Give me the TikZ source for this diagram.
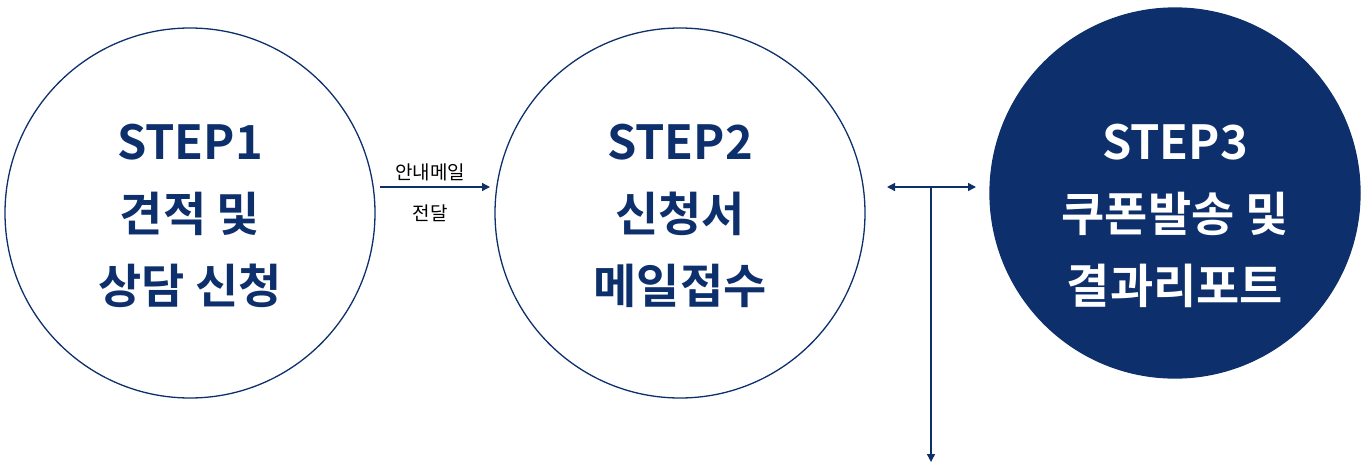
\documentclass[tikz,border=0pt]{standalone}
\usepackage{fontspec}
\setmainfont{Noto Sans CJK KR}[BoldFont={* Bold}]
\newfontfamily\kb{Noto Sans CJK KR Bold}
\definecolor{navy}{HTML}{0D2F6B}
\usetikzlibrary{arrows.meta}
\begin{document}
\begin{tikzpicture}[x=1pt,y=-1pt,
  circ/.style={circle,draw=navy,line width=1.3pt,minimum size=370pt,inner sep=0pt},
  big/.style={font=\kb\fontsize{47}{72}\selectfont,text=navy,align=center},
  lab/.style={font=\fontsize{19}{22}\selectfont,text=black},
  conn/.style={navy,line width=1.3pt,-{Triangle[length=8pt,width=8pt]}}]
\useasboundingbox (0,0) rectangle (1367,474);
\node[circ] (c1) at (190,213) {};
\node[circ] (c2) at (680,213) {};
\node[circ,fill=navy] (c3) at (1175,193) {};
\node[big] at (190,216) {STEP1\\견적 및\\상담 신청};
\node[big] at (680,216) {STEP2\\신청서\\메일접수};
\node[big,text=white] at (1175,216) {STEP3\\쿠폰발송 및\\결과리포트};
\coordinate (a1) at (380,187); \coordinate (a2) at (490,187);
\draw[conn] (a1) -- (a2);
\node[lab] at (430,172) {안내메일};
\node[lab] at (430,213) {전달};
\coordinate (b1) at (887,187); \coordinate (b2) at (976,187);
\coordinate (bm) at (931,187); \coordinate (bd) at (931,462);
\draw[conn,{Triangle[length=8pt,width=8pt]}-{Triangle[length=8pt,width=8pt]}] (b1) -- (b2);
\draw[conn] (bm) -- (bd);
\end{tikzpicture}
\end{document}
